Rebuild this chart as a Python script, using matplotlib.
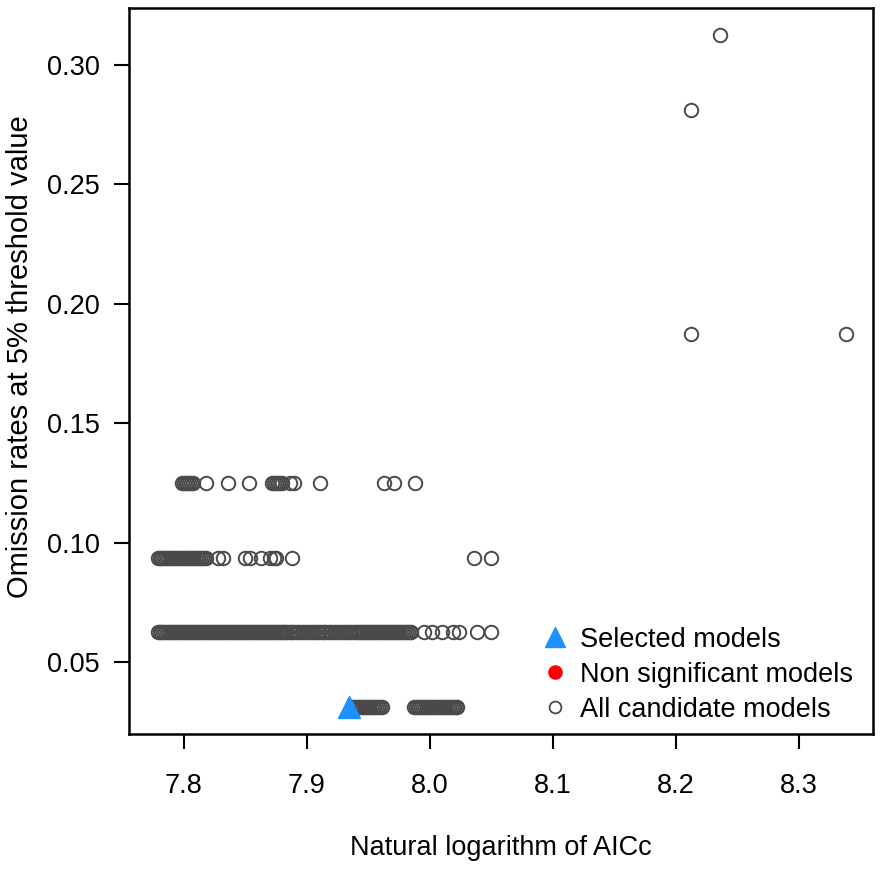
import numpy as np
import matplotlib
matplotlib.use("Agg")
import matplotlib.pyplot as plt
from matplotlib.lines import Line2D

plt.rcParams['font.family'] = ['Liberation Sans', 'DejaVu Sans']

# omission rate levels (test set of 32 points)
rates = [0.03125, 0.0625, 0.09375, 0.125, 0.1875, 0.28125, 0.3125]

# ln(AICc) of candidate models, one list per omission rate
aicc_r03125 = [7.9370, 7.9385, 7.9400, 7.9415, 7.9430, 7.9445, 7.9460, 7.9475,
               7.9490, 7.9505, 7.9520, 7.9535, 7.9550, 7.9565, 7.9580, 7.9595,
               7.9610,
               7.9870, 7.9885, 7.9900, 7.9915, 7.9930, 7.9945, 7.9960, 7.9975,
               7.9990, 8.0005, 8.0020, 8.0035, 8.0050, 8.0065, 8.0080, 8.0095,
               8.0110, 8.0125, 8.0140, 8.0155, 8.0170, 8.0185, 8.0200, 8.0215,
               8.0220]
aicc_r0625 = [7.7790, 7.7805, 7.7820, 7.7835, 7.7850, 7.7865, 7.7880, 7.7895,
              7.7910, 7.7925, 7.7940, 7.7955, 7.7970, 7.7985, 7.8000, 7.8015,
              7.8030, 7.8045, 7.8060, 7.8075, 7.8090, 7.8105, 7.8120, 7.8135,
              7.8150, 7.8165, 7.8180, 7.8195, 7.8210, 7.8225, 7.8240, 7.8255,
              7.8270, 7.8285, 7.8300, 7.8315, 7.8330, 7.8345, 7.8360, 7.8375,
              7.8390, 7.8405, 7.8420, 7.8435, 7.8450, 7.8465, 7.8480, 7.8495,
              7.8510, 7.8525, 7.8540, 7.8555, 7.8570, 7.8585, 7.8600, 7.8615,
              7.8630, 7.8645, 7.8660, 7.8675, 7.8690, 7.8705, 7.8720, 7.8735,
              7.8750, 7.8765, 7.8780, 7.8795, 7.8810, 7.8825, 7.8840,
              7.8860, 7.8880, 7.8900, 7.8920, 7.8940, 7.8960, 7.8980, 7.9000,
              7.9020, 7.9040, 7.9060, 7.9080, 7.9100, 7.9120, 7.9140, 7.9160,
              7.9180, 7.9200, 7.9220, 7.9240, 7.9260, 7.9280, 7.9300, 7.9320,
              7.9340, 7.9360, 7.9380,
              7.9400, 7.9415, 7.9430, 7.9445, 7.9460, 7.9475, 7.9490, 7.9505,
              7.9520, 7.9535, 7.9550, 7.9565, 7.9580, 7.9595, 7.9610, 7.9625,
              7.9640, 7.9655, 7.9670, 7.9685, 7.9700, 7.9715, 7.9730, 7.9745,
              7.9760, 7.9775, 7.9790, 7.9805, 7.9820, 7.9835, 7.9850,
              7.995, 8.002, 8.010, 8.019, 8.024, 8.038, 8.050]
aicc_r09375 = [7.7790, 7.7805, 7.7820, 7.7835, 7.7850, 7.7865, 7.7880, 7.7895,
               7.7910, 7.7925, 7.7940, 7.7955, 7.7970, 7.7985, 7.8000, 7.8015,
               7.8030, 7.8045, 7.8060, 7.8075, 7.8090, 7.8105, 7.8120, 7.8135,
               7.8150, 7.8165, 7.8180,
               7.828, 7.832, 7.850, 7.854, 7.863, 7.870, 7.873, 7.875, 7.888,
               8.036, 8.050]
aicc_r125 = [7.7985, 7.8000, 7.8015, 7.8030, 7.8045, 7.8060, 7.8075, 7.818,
             7.836, 7.853,
             7.8720, 7.8735, 7.8750, 7.8765, 7.8780, 7.8795, 7.886, 7.890,
             7.911, 7.963, 7.971, 7.988]
aicc_r1875 = [8.212, 8.338]
aicc_r28125 = [8.212]
aicc_r3125 = [8.2356]

# selected model and non significant models
sel_aicc = [7.9345]
sel_rate = [0.03125]
nonsig_aicc = []
nonsig_rate = []

groups = [aicc_r03125, aicc_r0625, aicc_r09375, aicc_r125,
          aicc_r1875, aicc_r28125, aicc_r3125]
x = np.concatenate([np.asarray(g) for g in groups])
y = np.concatenate([np.full(len(g), r) for g, r in zip(groups, rates)])

fig = plt.figure(figsize=(8.86, 8.76), dpi=100)
ax = fig.add_axes([129 / 886, 142 / 876, 744 / 886, 726 / 876])

circ_col = '#4a4a4a'
ax.plot(x, y, linestyle='none', marker='o', markersize=9.7,
        markerfacecolor='none', markeredgecolor=circ_col, markeredgewidth=1.4)
ax.plot(nonsig_aicc, nonsig_rate, linestyle='none', marker='o',
        markersize=10.5, color='red')
ax.plot(sel_aicc, sel_rate, linestyle='none', marker='^', markersize=15.5,
        color='#1E90FF')

ax.set_xlim(7.7556, 8.360)
ax.set_ylim(0.02, 0.32375)
ax.set_xticks([7.8, 7.9, 8.0, 8.1, 8.2, 8.3])
ax.set_xticklabels(['7.8', '7.9', '8.0', '8.1', '8.2', '8.3'])
ax.set_yticks([0.05, 0.10, 0.15, 0.20, 0.25, 0.30])
ax.set_yticklabels(['0.05', '0.10', '0.15', '0.20', '0.25', '0.30'])

for sp in ax.spines.values():
    sp.set_linewidth(1.8)
ax.tick_params(direction='out', length=11, width=1.5, labelsize=19.5)
ax.tick_params(axis='x', pad=17)
ax.tick_params(axis='y', pad=10)

ax.set_xlabel('Natural logarithm of AICc', fontsize=19.5)
ax.xaxis.label.set_va('center')
ax.xaxis.set_label_coords(0.5, -0.157)
ax.set_ylabel('Omission rates at 5% threshold value', fontsize=21)
ax.yaxis.label.set_va('center')
ax.yaxis.set_label_coords(-0.1465, 0.52)

handles = [
    Line2D([], [], linestyle='none', marker='^', markersize=15, color='#1E90FF'),
    Line2D([], [], linestyle='none', marker='o', markersize=10.5, color='red',
           markeredgewidth=0),
    Line2D([], [], linestyle='none', marker='o', markersize=8.5,
           markerfacecolor='none', markeredgecolor=circ_col, markeredgewidth=1.3),
]
labels = ['Selected models', 'Non significant models', 'All candidate models']
ax.legend(handles, labels, loc='upper left', bbox_to_anchor=(0.5544, 0.148),
          frameon=False, fontsize=19.5, handlelength=1.0, handletextpad=0.43,
          labelspacing=0.34, borderpad=0, borderaxespad=0)

fig.savefig('out.png', dpi=100)
